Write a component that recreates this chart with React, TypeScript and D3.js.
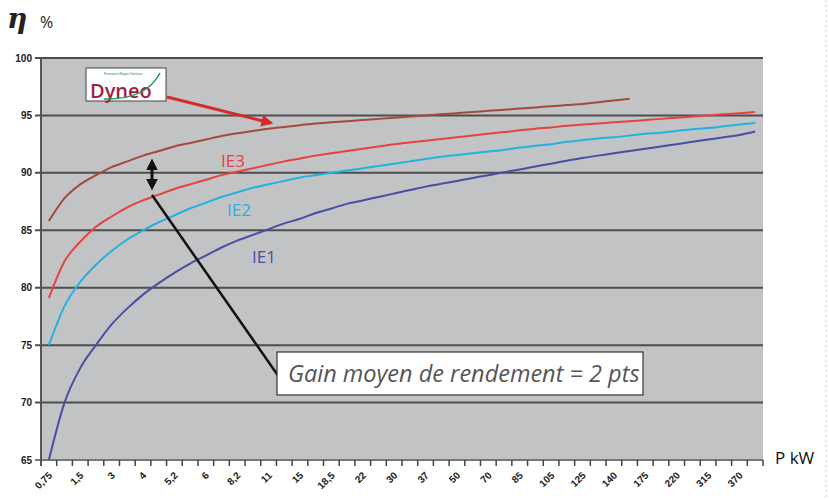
import React from "react";
import * as d3 from "d3";

const categories = [
  "0,75", "1,1", "1,5", "2,2", "3", "3,7", "4", "4,5", "5,2", "5,8",
  "6", "7,5", "8,2", "9,2", "11", "13", "15", "17", "18,5", "20",
  "22", "25", "30", "33", "37", "45", "50", "55", "70", "75",
  "85", "90", "105", "110", "125", "132", "140", "160", "175", "200",
  "220", "250", "315", "355", "370", "375",
];

const yTicks = [65, 70, 75, 80, 85, 90, 95, 100];

const ie1 = [
  65.0, 70.0, 73.0, 75.0, 76.8, 78.2, 79.4, 80.4, 81.3, 82.1,
  82.8, 83.5, 84.1, 84.6, 85.1, 85.6, 86.0, 86.5, 86.9, 87.3,
  87.6, 87.9, 88.2, 88.5, 88.8, 89.05, 89.3, 89.55, 89.8, 90.05,
  90.3, 90.55, 90.8, 91.05, 91.3, 91.5, 91.7, 91.9, 92.1, 92.3,
  92.5, 92.7, 92.9, 93.1, 93.3, 93.6,
];

const ie2 = [
  75.0, 78.4, 80.5, 82.0, 83.2, 84.2, 85.0, 85.7, 86.3, 86.9,
  87.4, 87.9, 88.3, 88.7, 89.0, 89.3, 89.6, 89.8, 90.0, 90.2,
  90.4, 90.6, 90.8, 91.0, 91.2, 91.4, 91.55, 91.7, 91.85, 92.0,
  92.2, 92.35, 92.5, 92.7, 92.85, 93.0, 93.1, 93.25, 93.4, 93.5,
  93.65, 93.8, 93.9, 94.05, 94.2, 94.35,
];

const ie3 = [
  79.1, 82.3, 84.0, 85.3, 86.2, 87.0, 87.6, 88.1, 88.6, 89.0,
  89.4, 89.8, 90.1, 90.4, 90.7, 91.0, 91.25, 91.5, 91.7, 91.9,
  92.1, 92.3, 92.5, 92.65, 92.8, 92.95, 93.1, 93.25, 93.4, 93.55,
  93.7, 93.85, 93.95, 94.1, 94.2, 94.3, 94.4, 94.5, 94.6, 94.7,
  94.8, 94.9, 95.0, 95.1, 95.2, 95.3,
];

const dyneo: (number | null)[] = [
  85.8, 87.8, 89.0, 89.8, 90.5, 91.0, 91.5, 91.9, 92.3, 92.6,
  92.9, 93.2, 93.45, 93.65, 93.85, 94.0, 94.15, 94.3, 94.4, 94.5,
  94.6, 94.7, 94.8, 94.9, 95.0, 95.1, 95.2, 95.3, 95.4, 95.5,
  95.6, 95.7, 95.8, 95.9, 96.0, 96.15, 96.3, 96.45, null, null,
  null, null, null, null, null, null,
];

const series = [
  { name: "IE1", values: ie1, color: "#4a4ea3" },
  { name: "IE2", values: ie2, color: "#22b2e2" },
  { name: "IE3", values: ie3, color: "#e8423f" },
  { name: "Dyneo", values: dyneo, color: "#a8483c" },
];

const W = 829;
const H = 500;
const left = 41;
const right = 763;
const top = 58;
const bottom = 460;

export default function App() {
  const x = d3.scaleBand<string>().domain(categories).range([left, right]);
  const y = d3.scaleLinear().domain([65, 100]).range([bottom, top]);
  const cx = (c: string) => (x(c) ?? 0) + x.bandwidth() / 2;

  const line = d3
    .line<number | null>()
    .defined((d) => d != null)
    .x((_d, i) => cx(categories[i]))
    .y((d) => y(d as number))
    .curve(d3.curveMonotoneX);

  const tickFont = "'Liberation Sans', Arial, sans-serif";

  return (
    <svg
      width={W}
      height={H}
      style={{ position: "absolute", left: 0, top: 0, background: "#fff" }}
    >
      <defs>
        <marker id="redHead" viewBox="0 0 10 10" refX="8" refY="5" markerWidth="4" markerHeight="4" orient="auto">
          <path d="M0,0 L10,5 L0,10 z" fill="#d42a2a" />
        </marker>
        <marker id="blkHead" viewBox="0 0 10 10" refX="7" refY="5" markerWidth="4" markerHeight="4.5" orient="auto-start-reverse">
          <path d="M0,0 L10,5 L0,10 z" fill="#111" />
        </marker>
      </defs>

      {/* plot background */}
      <rect x={left} y={top} width={right - left} height={bottom - top} fill="#c2c3c5" />

      {/* grid lines */}
      {yTicks.map((t) => (
        <line key={t} x1={left - 6} x2={right} y1={y(t)} y2={y(t)} stroke={t === 65 ? "#777" : "#4e4e4e"} strokeWidth={2} />
      ))}
      <line x1={left} x2={left} y1={top} y2={bottom + 6} stroke="#555" strokeWidth={2} />

      {/* y labels */}
      {yTicks.map((t) => (
        <text
          key={t}
          x={32}
          y={y(t) + 3.5}
          textAnchor="end"
          fontFamily={tickFont}
          fontWeight="bold"
          fontSize={10}
          fill="#222"
        >
          {t}
        </text>
      ))}

      {/* x ticks */}
      {categories.map((c) => (
        <line key={c} x1={(x(c) ?? 0) + x.bandwidth()} x2={(x(c) ?? 0) + x.bandwidth()} y1={bottom} y2={bottom + 6} stroke="#444" strokeWidth={1.5} />
      ))}
      {categories.map((c, i) =>
        i % 2 === 0 ? (
          <text
            key={c}
            transform={`translate(${cx(c) + 4},${bottom + 16}) rotate(-45)`}
            textAnchor="end"
            fontFamily={tickFont}
            fontWeight="bold"
            fontSize={10}
            fill="#222"
          >
            {c}
          </text>
        ) : null
      )}

      {/* curves */}
      {series.map((s) => (
        <path key={s.name} d={line(s.values) ?? ""} fill="none" stroke={s.color} strokeWidth={2} />
      ))}

      {/* curve labels */}
      <text x={221} y={167} fontFamily="'Open Sans', sans-serif" fontSize={17} fill="#e8423f">IE3</text>
      <text x={227} y={216} fontFamily="'Open Sans', sans-serif" fontSize={17} fill="#22b2e2">IE2</text>
      <text x={252} y={263} fontFamily="'Open Sans', sans-serif" fontSize={17} fill="#4a4ea3">IE1</text>

      {/* Dyneo logo */}
      <rect x={86} y={68} width={80} height={33} fill="#fff" stroke="#444" strokeWidth={1} />
      <text x={104} y={74.5} fontFamily={tickFont} fontSize={3} fill="#2a8a5a">Permanent Magnet Solutions</text>
      <text x={90} y={97.5} fontFamily="'Open Sans', sans-serif" fontWeight="600" fontSize={20} fill="#a21d40">Dyneo</text>
      <path d="M104,99 Q146,100 160,73" fill="none" stroke="#1f9a60" strokeWidth={1.6} />
      <line x1={167} y1={97} x2={271} y2={123} stroke="#d42a2a" strokeWidth={3} markerEnd="url(#redHead)" />

      {/* double arrow and pointer */}
      <line x1={152} y1={162} x2={152} y2={187} stroke="#111" strokeWidth={3} markerStart="url(#blkHead)" markerEnd="url(#blkHead)" />
      <line x1={152} y1={195} x2={279} y2={377} stroke="#111" strokeWidth={2.5} />

      {/* annotation box */}
      <rect x={277} y={352} width={366} height={43} fill="#fff" stroke="#333" strokeWidth={1.2} />
      <text x={288} y={382} fontFamily="'Open Sans', sans-serif" fontStyle="italic" fontSize={23.5} fill="#555">
        Gain moyen de rendement = 2 pts
      </text>

      {/* axis titles */}
      <text x={7} y={28} fontFamily="'DejaVu Serif', serif" fontStyle="italic" fontWeight="bold" fontSize={28} fill="#222">η</text>
      <text x={40} y={28} fontFamily="'Open Sans', sans-serif" fontSize={16} fill="#222">%</text>
      <text x={775} y={464} fontFamily="'Open Sans', sans-serif" fontSize={17} fill="#111">P kW</text>

      <line x1={826} x2={826} y1={0} y2={H} stroke="#ccc" strokeDasharray="2,3" />
    </svg>
  );
}
